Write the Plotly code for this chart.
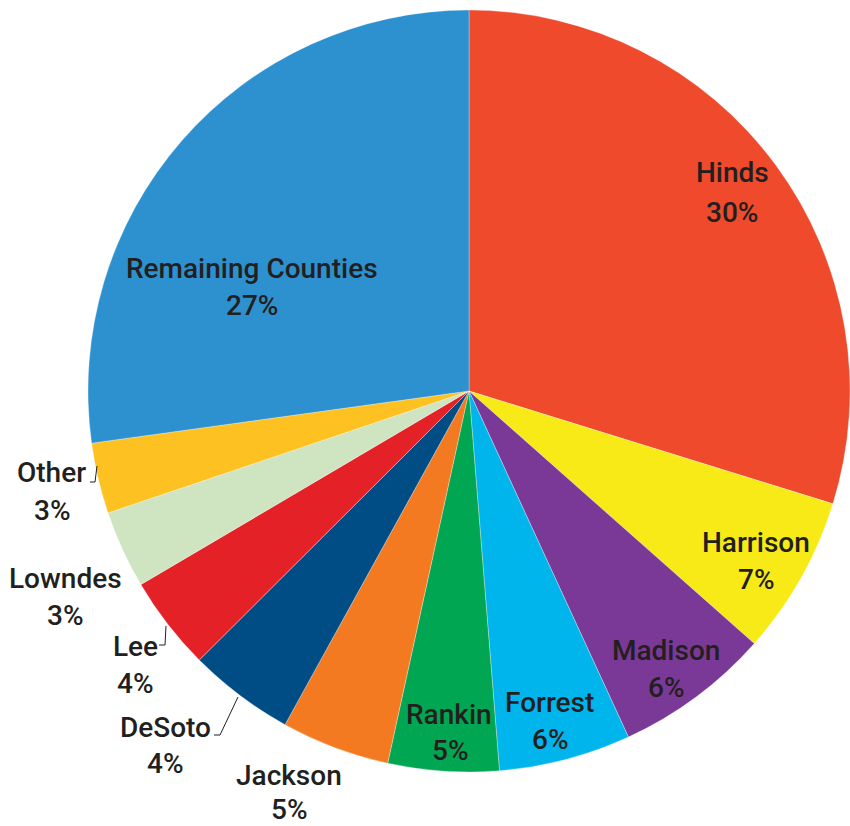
import plotly.graph_objects as go

W, H = 850, 826

counties = ["Hinds", "Harrison", "Madison", "Forrest", "Rankin", "Jackson",
            "DeSoto", "Lee", "Lowndes", "Other", "Remaining Counties"]
shares = [29.8, 6.75, 6.6, 5.6, 4.7, 4.6, 4.5, 4.0, 3.3, 3.0, 27.2]
pct_labels = ["30%", "7%", "6%", "6%", "5%", "5%", "4%", "4%", "3%", "3%", "27%"]
colors = ["#EE4A2B", "#F7EA17", "#7A3996", "#00B4EC", "#00A651", "#F47A22",
          "#004D86", "#E42127", "#CFE4C0", "#FDC221", "#2E91CF"]

# label layout (pixel centres of name line and percent line)
label_pos = {
    "Hinds": (732, 173, 732, 212),
    "Harrison": (756, 542, 756, 579),
    "Madison": (666, 650, 666, 687),
    "Forrest": (549, 702, 550, 739),
    "Rankin": (449, 714, 450, 750),
    "Jackson": (289, 775, 289, 809),
    "DeSoto": (165, 727, 165, 763),
    "Lee": (135, 646, 135, 683),
    "Lowndes": (65, 578, 65, 615),
    "Other": (51, 472, 52, 510),
    "Remaining Counties": (252, 269, 252, 305),
}
leaders = [
    [(97, 466), (95, 482), (90, 482)],
    [(166, 626), (165, 645), (159, 645)],
    [(238, 697), (220, 735), (214, 735)],
]

def px(x):
    return x / W

def py(y):
    return 1 - y / H

cx, cy, r = 469, 391, 381
fig = go.Figure(go.Pie(
    labels=counties,
    values=shares,
    sort=False,
    direction="clockwise",
    rotation=0,
    marker=dict(colors=colors, line=dict(color="rgba(255,255,255,0.5)", width=0.6)),
    textinfo="none",
    hoverinfo="label+percent",
    domain=dict(x=[px(cx - r), px(cx + r)], y=[py(cy + r), py(cy - r)]),
    showlegend=False,
))

font = dict(family="Roboto", size=28, color="#231F20", weight=500)
for name, pct in zip(counties, pct_labels):
    x1, y1, x2, y2 = label_pos[name]
    fig.add_annotation(x=px(x1), y=py(y1), xref="paper", yref="paper", text=name,
                       showarrow=False, xanchor="center", yanchor="middle",
                       borderpad=0, font=font)
    fig.add_annotation(x=px(x2), y=py(y2), xref="paper", yref="paper", text=pct,
                       showarrow=False, xanchor="center", yanchor="middle",
                       borderpad=0, font=font)

for pts in leaders:
    path = "M " + " L ".join(f"{px(x)},{py(y)}" for x, y in pts)
    fig.add_shape(type="path", path=path, xref="paper", yref="paper",
                  line=dict(color="#231F20", width=1))

fig.update_layout(width=W, height=H, margin=dict(l=0, r=0, t=0, b=0),
                  paper_bgcolor="white", plot_bgcolor="white")
fig.write_html("out.html")
